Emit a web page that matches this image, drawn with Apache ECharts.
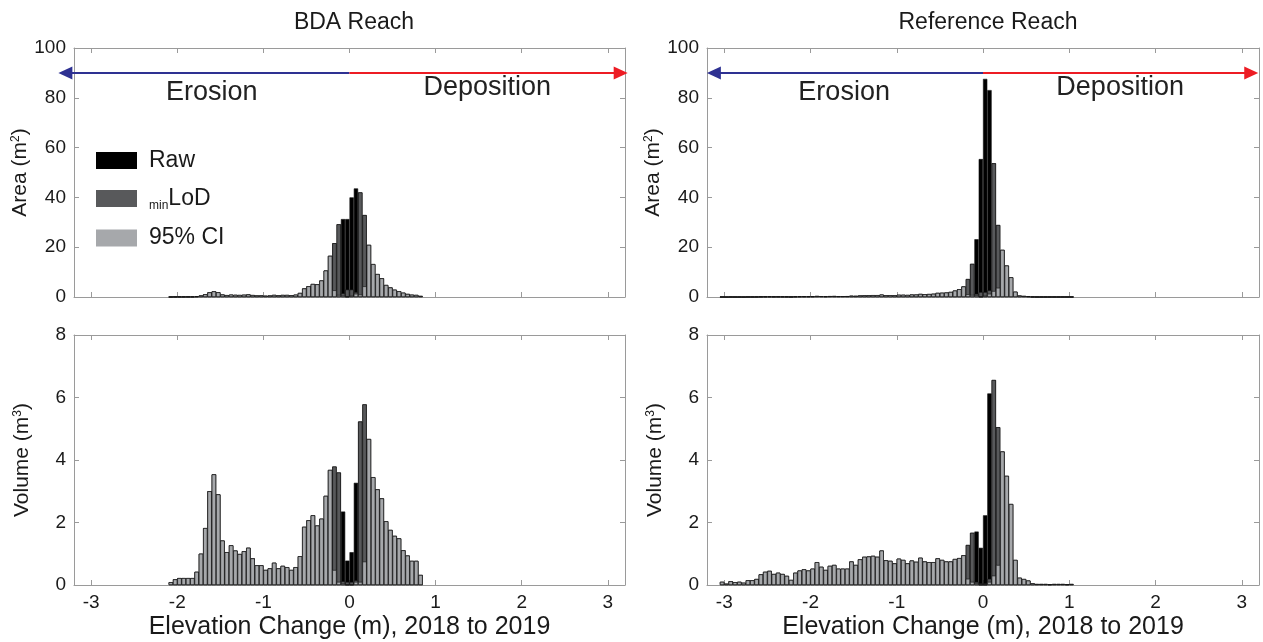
<!DOCTYPE html>
<html><head><meta charset="utf-8">
<script src="https://cdn.jsdelivr.net/npm/echarts@6/dist/echarts.min.js"></script>
<style>html,body{margin:0;padding:0;background:#fff}#c{width:1263px;height:642px}</style>
</head><body><div id="c"></div>
<script>
const FONT = "'Liberation Sans', Arial, sans-serif";

// ---- bins (bin centres, width 0.05 m) ----
const binWidth = 0.05;
const bdaFirstBin = -2.075;   // 59 bins: -2.10 .. 0.85
const refFirstBin = -3.025;   // 82 bins: -3.05 .. 1.05

// ---- BDA reach: volume (m3) ----
const bdaVolCI = [0.09,0.18,0.22,0.22,0.22,0.22,0.42,1.0,1.82,3.0,
  3.54,2.9,1.42,1.05,1.27,1.1,0.99,1.08,1.19,0.85,
  0.63,0.63,0.48,0.53,0.71,0.53,0.61,0.57,0.48,0.57,
  0.92,1.86,2.07,2.23,1.9,2.12,2.85,3.68,0.48,0.1,
  0.05,0,0,0.1,0.1,0.75,4.67,3.45,3.06,2.77,
  2.04,1.76,1.57,1.49,1.11,0.94,0.77,0.77,0.32];
const bdaVolLoD = [0.09,0.18,0.22,0.22,0.22,0.22,0.42,1.0,1.82,3.0,
  3.54,2.9,1.42,1.05,1.27,1.1,0.99,1.08,1.19,0.85,
  0.63,0.63,0.48,0.53,0.71,0.53,0.61,0.57,0.48,0.57,
  0.92,1.86,2.07,2.23,1.9,2.12,2.85,3.68,3.79,3.6,
  0.12,0.1,0.1,0.15,5.23,5.78,4.67,3.45,3.06,2.77,
  2.04,1.76,1.57,1.49,1.11,0.94,0.77,0.77,0.32];
const bdaVolRaw = [0.09,0.18,0.22,0.22,0.22,0.22,0.42,1.0,1.82,3.0,
  3.54,2.9,1.42,1.05,1.27,1.1,0.99,1.08,1.19,0.85,
  0.63,0.63,0.48,0.53,0.71,0.53,0.61,0.57,0.48,0.57,
  0.92,1.86,2.07,2.23,1.9,2.12,2.85,3.68,3.79,3.6,
  2.35,0.78,1.05,3.27,5.23,5.78,4.67,3.45,3.06,2.77,
  2.04,1.76,1.57,1.49,1.11,0.94,0.77,0.77,0.32];

// ---- BDA reach: area (m2) ----
const bdaAreaCI = [0.04,0.09,0.11,0.11,0.12,0.12,0.24,0.58,1.09,1.85,
  2.25,1.9,0.96,0.74,0.92,0.83,0.78,0.88,1.01,0.76,
  0.59,0.61,0.49,0.57,0.81,0.64,0.79,0.79,0.71,0.91,
  1.6,3.4,4.3,5.2,5.1,6.6,10.6,16.5,2.7,0.8,
  0.6,0,0.5,1.3,1.0,4.3,20.9,13.2,9.2,7.5,
  4.8,3.8,2.9,2.3,1.7,1.2,0.9,0.8,0.4];
const bdaAreaLoD = [0.04,0.09,0.11,0.11,0.12,0.12,0.24,0.58,1.09,1.85,
  2.25,1.9,0.96,0.74,0.92,0.83,0.78,0.88,1.01,0.76,
  0.59,0.61,0.49,0.57,0.81,0.64,0.79,0.79,0.71,0.91,
  1.6,3.4,4.3,5.2,5.1,6.6,10.6,16.5,21.6,29.2,
  1.5,3,3,2,42,32.9,20.9,13.2,9.2,7.5,
  4.8,3.8,2.9,2.3,1.7,1.2,0.9,0.8,0.4];
const bdaAreaRaw = [0.04,0.09,0.11,0.11,0.12,0.12,0.24,0.58,1.09,1.85,
  2.25,1.9,0.96,0.74,0.92,0.83,0.78,0.88,1.01,0.76,
  0.59,0.61,0.49,0.57,0.81,0.64,0.79,0.79,0.71,0.91,
  1.6,3.4,4.3,5.2,5.1,6.6,10.6,16.5,21.6,29.2,
  31.3,31.3,40,43.6,42,32.9,20.9,13.2,9.2,7.5,
  4.8,3.8,2.9,2.3,1.7,1.2,0.9,0.8,0.4];

// ---- Reference reach: volume (m3) ----
const refVolCI = [0.1,0.04,0.12,0.09,0.1,0.07,0.15,0.15,0.19,0.34,
  0.42,0.45,0.35,0.39,0.35,0.29,0.16,0.39,0.46,0.5,
  0.46,0.52,0.73,0.58,0.48,0.61,0.64,0.52,0.52,0.52,
  0.75,0.64,0.82,0.9,0.91,0.93,0.9,1.1,0.79,0.77,
  0.69,0.84,0.8,0.69,0.78,0.74,0.87,0.75,0.73,0.73,
  0.85,0.8,0.75,0.75,0.83,0.86,0.95,0.2,0.1,0.05,
  0,0,0.1,0.3,0.64,4.27,3.49,2.59,0.8,0.23,
  0.19,0.14,0.05,0.03,0.03,0.03,0.02,0.03,0.03,0.03,
  0.02,0.03];
const refVolLoD = [0.1,0.04,0.12,0.09,0.1,0.07,0.15,0.15,0.19,0.34,
  0.42,0.45,0.35,0.39,0.35,0.29,0.16,0.39,0.46,0.5,
  0.46,0.52,0.73,0.58,0.48,0.61,0.64,0.52,0.52,0.52,
  0.75,0.64,0.82,0.9,0.91,0.93,0.9,1.1,0.79,0.77,
  0.69,0.84,0.8,0.69,0.78,0.74,0.87,0.75,0.73,0.73,
  0.85,0.8,0.75,0.75,0.83,0.86,0.95,1.28,1.67,0.1,
  0.05,0.05,0.2,6.56,5.05,4.27,3.49,2.59,0.8,0.23,
  0.19,0.14,0.05,0.03,0.03,0.03,0.02,0.03,0.03,0.03,
  0.02,0.03];
const refVolRaw = [0.1,0.04,0.12,0.09,0.1,0.07,0.15,0.15,0.19,0.34,
  0.42,0.45,0.35,0.39,0.35,0.29,0.16,0.39,0.46,0.5,
  0.46,0.52,0.73,0.58,0.48,0.61,0.64,0.52,0.52,0.52,
  0.75,0.64,0.82,0.9,0.91,0.93,0.9,1.1,0.79,0.77,
  0.69,0.84,0.8,0.69,0.78,0.74,0.87,0.75,0.73,0.73,
  0.85,0.8,0.75,0.75,0.83,0.86,0.95,1.28,1.67,1.71,
  1.19,2.23,6.13,6.56,5.05,4.27,3.49,2.59,0.8,0.23,
  0.19,0.14,0.05,0.03,0.03,0.03,0.02,0.03,0.03,0.03,
  0.02,0.03];

// ---- Reference reach: area (m2) ----
const refAreaCI = [0.03,0.01,0.04,0.03,0.035,0.025,0.055,0.056,0.072,0.13,
  0.17,0.18,0.14,0.16,0.15,0.13,0.07,0.18,0.22,0.24,
  0.23,0.26,0.38,0.31,0.26,0.34,0.37,0.31,0.32,0.33,
  0.49,0.43,0.58,0.65,0.69,0.73,0.73,0.94,0.7,0.72,
  0.67,0.86,0.86,0.79,0.95,0.95,1.2,1.11,1.17,1.27,
  1.62,1.68,1.76,2.0,2.55,3.13,4.2,1.1,0.8,0.7,
  0,0.5,1.3,2.4,3.7,18.9,12.6,7.9,2.1,0.55,
  0.4,0.27,0.09,0.05,0.05,0.05,0.04,0.05,0.05,0.05,
  0.04,0.05];
const refAreaLoD = [0.03,0.01,0.04,0.03,0.035,0.025,0.055,0.056,0.072,0.13,
  0.17,0.18,0.14,0.16,0.15,0.13,0.07,0.18,0.22,0.24,
  0.23,0.26,0.38,0.31,0.26,0.34,0.37,0.31,0.32,0.33,
  0.49,0.43,0.58,0.65,0.69,0.73,0.73,0.94,0.7,0.72,
  0.67,0.86,0.86,0.79,0.95,0.95,1.2,1.11,1.17,1.27,
  1.62,1.68,1.76,2.0,2.55,3.13,4.2,7.2,13.3,1.3,
  2,2,2.7,53.7,28.9,18.9,12.6,7.9,2.1,0.55,
  0.4,0.27,0.09,0.05,0.05,0.05,0.04,0.05,0.05,0.05,
  0.04,0.05];
const refAreaRaw = [0.03,0.01,0.04,0.03,0.035,0.025,0.055,0.056,0.072,0.13,
  0.17,0.18,0.14,0.16,0.15,0.13,0.07,0.18,0.22,0.24,
  0.23,0.26,0.38,0.31,0.26,0.34,0.37,0.31,0.32,0.33,
  0.49,0.43,0.58,0.65,0.69,0.73,0.73,0.94,0.7,0.72,
  0.67,0.86,0.86,0.79,0.95,0.95,1.2,1.11,1.17,1.27,
  1.62,1.68,1.76,2.0,2.55,3.13,4.2,7.2,13.3,23.2,
  55.4,87.6,83.1,53.7,28.9,18.9,12.6,7.9,2.1,0.55,
  0.4,0.27,0.09,0.05,0.05,0.05,0.04,0.05,0.05,0.05,
  0.04,0.05];

// ---- text / ticks / annotations ----
const panelTitles = ['BDA Reach', 'Reference Reach'];
const xTicks = [-3,-2,-1,0,1,2,3];
const xName = 'Elevation Change (m), 2018 to 2019';
const legendNames = ['Raw', 'minLoD', '95% CI'];
const annoText = ['Erosion', 'Deposition'];
const bdaAnnoX = [-1.6, 1.6], bdaAnnoY = [82, 84];
const refAnnoX = [-1.61, 1.59], refAnnoY = [82, 84];
const arrowY = 90;
const bdaArrowEnds = [-3.30, 3.15];   // arrowhead centres (m), erosion / deposition
const refArrowEnds = [-3.12, 3.11];

// ---- layout ----
const grids = [
  {left: 74, top: 48, width: 551, height: 249},
  {left: 74, top: 335, width: 551, height: 250},
  {left: 707, top: 48, width: 552, height: 249},
  {left: 707, top: 335, width: 552, height: 250}
];
const AX = '#9a9a9a';
const TXT = '#1a1a1a';
const BLUE = '#2e3192', RED = '#ed1c24';
const colors = {raw: '#000000', lod: '#58595b', ci: '#a6a8ab'};

const panels = [
  {first: bdaFirstBin, raw: bdaAreaRaw, lod: bdaAreaLoD, ci: bdaAreaCI, area: true, annoX: bdaAnnoX, annoY: bdaAnnoY, arrow: bdaArrowEnds},
  {first: bdaFirstBin, raw: bdaVolRaw, lod: bdaVolLoD, ci: bdaVolCI, area: false},
  {first: refFirstBin, raw: refAreaRaw, lod: refAreaLoD, ci: refAreaCI, area: true, annoX: refAnnoX, annoY: refAnnoY, arrow: refArrowEnds},
  {first: refFirstBin, raw: refVolRaw, lod: refVolLoD, ci: refVolCI, area: false}
];

const xAxes = [], yAxes = [], series = [];
panels.forEach((p, g) => {
  const bottomLabels = !p.area;
  xAxes.push({gridIndex: g, type: 'value', min: -3.2, max: 3.2, position: 'bottom',
    axisLine: {show: true, onZero: false, lineStyle: {color: AX}},
    axisTick: {show: true, inside: true, length: 5, customValues: xTicks, lineStyle: {color: AX}},
    axisLabel: {show: bottomLabels, customValues: xTicks, fontSize: 19, fontFamily: FONT, color: TXT, margin: 8},
    splitLine: {show: false},
    name: bottomLabels ? xName : '', nameLocation: 'middle', nameGap: 30,
    nameTextStyle: {fontSize: 25, fontFamily: FONT, color: TXT}});
  yAxes.push({gridIndex: g, type: 'value', min: 0, max: p.area ? 100 : 8, interval: p.area ? 20 : 2,
    axisLine: {show: true, onZero: false, lineStyle: {color: AX}},
    axisTick: {show: true, inside: true, length: 5, lineStyle: {color: AX}},
    axisLabel: {fontSize: 19, fontFamily: FONT, color: TXT, margin: 8},
    splitLine: {show: false},
    name: p.area ? 'Area (m{sup|2})' : 'Volume (m{sup|3})', nameLocation: 'middle', nameGap: 41, nameRotate: 90,
    nameTextStyle: {fontSize: 21, fontFamily: FONT, color: TXT,
      rich: {sup: {fontSize: 12, fontFamily: FONT, color: TXT, verticalAlign: 'top', padding: [0, 0, 8, 0]}}}});
  const w = grids[g].width / 6.4 * binWidth;
  const mk = arr => arr.map((v, i) => [p.first + binWidth * i, v]);
  [['Raw', p.raw, colors.raw], ['minLoD', p.lod, colors.lod], ['95% CI', p.ci, colors.ci]].forEach(([nm, arr, col]) => {
    series.push({type: 'bar', name: nm, xAxisIndex: g, yAxisIndex: g, data: mk(arr),
      barWidth: w, barGap: '-100%', animation: false, silent: true,
      itemStyle: {color: col, borderColor: '#111', borderWidth: 0.6}});
  });
  if (p.area) {
    series.push({id: 'anno' + g, type: 'scatter', xAxisIndex: g, yAxisIndex: g, silent: true, animation: false,
      clip: false, symbolSize: 0, itemStyle: {color: TXT, opacity: 1},
      data: annoText.map((t, i) => ({name: t, value: [p.annoX[i], p.annoY[i]]})),
      label: {show: true, position: 'inside', formatter: '{b}', fontSize: 27, fontFamily: FONT, color: '#222', opacity: 1}
    });
  }
});
// frame: top and right axes with inside ticks
panels.forEach((p, g) => {
  xAxes.push({gridIndex: g, type: 'value', min: -3.2, max: 3.2, position: 'top',
    axisLine: {show: true, onZero: false, lineStyle: {color: AX}},
    axisTick: {show: true, inside: true, length: 5, customValues: xTicks, lineStyle: {color: AX}},
    axisLabel: {show: false}, splitLine: {show: false}});
  yAxes.push({gridIndex: g, type: 'value', min: 0, max: p.area ? 100 : 8, interval: p.area ? 20 : 2, position: 'right',
    axisLine: {show: true, onZero: false, lineStyle: {color: AX}},
    axisTick: {show: true, inside: true, length: 5, lineStyle: {color: AX}},
    axisLabel: {show: false}, splitLine: {show: false}});
});

const chart = echarts.init(document.getElementById('c'), null, {renderer: 'canvas'});
chart.setOption({
  backgroundColor: '#fff',
  animation: false,
  title: [
    {text: panelTitles[0], left: 349, top: 6, textAlign: 'center', textStyle: {fontSize: 23, fontWeight: 'normal', fontFamily: FONT, color: TXT}},
    {text: panelTitles[1], left: 983, top: 6, textAlign: 'center', textStyle: {fontSize: 23, fontWeight: 'normal', fontFamily: FONT, color: TXT}}
  ],
  legend: {data: legendNames, left: 96, top: 149, padding: 0, orient: 'vertical', icon: 'rect',
    itemWidth: 41, itemHeight: 17, itemGap: 15, selectedMode: false,
    itemStyle: {borderWidth: 0},
    formatter: n => n === 'minLoD' ? '{sub|min}{big|LoD}' : n,
    textStyle: {fontSize: 23, fontFamily: FONT, color: TXT, padding: [0, 0, 0, 7],
      rich: {sub: {fontSize: 12, fontFamily: FONT, color: TXT, verticalAlign: 'bottom', padding: [14, 0, 0, 0]},
             big: {fontSize: 23, fontFamily: FONT, color: TXT}}}},
  grid: grids.map(gr => Object.assign({containLabel: false}, gr)),
  xAxis: xAxes,
  yAxis: yAxes,
  series: series
});

// Erosion / deposition arrows: data positions converted through the axis scales
// (tips may run slightly past the plot frame, as in the original figure)
const arrowSeries = [];
panels.forEach((p, g) => {
  if (!p.area) return;
  const px = v => chart.convertToPixel({xAxisIndex: g, yAxisIndex: g}, v);
  const mid = px([0, arrowY]), lft = px([p.arrow[0], arrowY]), rgt = px([p.arrow[1], arrowY]);
  arrowSeries.push({id: 'anno' + g, markLine: {silent: true, animation: false, symbolSize: [13, 14],
    label: {show: false}, lineStyle: {width: 2, type: 'solid'},
    data: [
      [{x: mid[0], y: mid[1], symbol: 'none', lineStyle: {color: BLUE, width: 2, type: 'solid'}},
       {x: lft[0], y: lft[1], symbol: 'triangle'}],
      [{x: mid[0], y: mid[1], symbol: 'none', lineStyle: {color: RED, width: 2, type: 'solid'}},
       {x: rgt[0], y: rgt[1], symbol: 'triangle'}]
    ]}});
});
chart.setOption({series: arrowSeries});
</script></body></html>
